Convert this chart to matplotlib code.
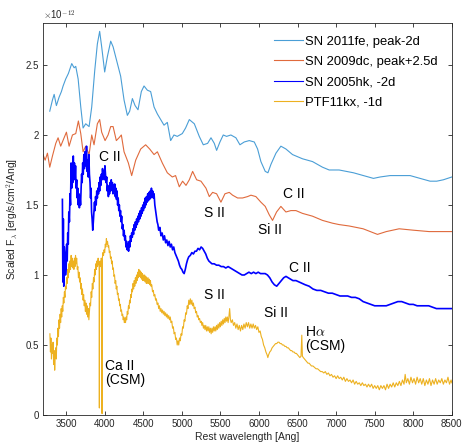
import numpy as np
import matplotlib
matplotlib.use('Agg')
import matplotlib.pyplot as plt
from matplotlib.ticker import FuncFormatter

plt.rcParams['font.family'] = ['Liberation Sans', 'DejaVu Sans']
plt.rcParams['mathtext.fontset'] = 'cm'

# spectra, flux in units of 1e-12
fe_wl = [3288, 3323, 3345, 3374, 3409, 3439, 3461, 3495, 3530, 3573, 3604, 3625, 3656, 3690,
         3720, 3754, 3798, 3832, 3871, 3905, 3935, 3961, 4000, 4035, 4078, 4109, 4151, 4207,
         4251, 4294, 4324, 4359, 4394, 4432, 4475, 4510, 4553, 4596, 4640, 4683, 4726, 4769,
         4812, 4855, 4898, 4941, 5006, 5049, 5097, 5162, 5226, 5278, 5334, 5378, 5421, 5451,
         5494, 5537, 5580, 5636, 5701, 5753, 5809, 5874, 5939, 5982, 6025, 6081, 6116, 6155,
         6220, 6284, 6349, 6435, 6564, 6694, 6823, 6910, 7039, 7225, 7354, 7484, 7570, 7700,
         7829, 7959, 8088, 8218, 8304, 8390, 8500]
fe_fl = [2.17, 2.25, 2.29, 2.21, 2.27, 2.31, 2.35, 2.40, 2.44, 2.51, 2.48, 2.49, 2.40, 2.20,
         2.05, 2.08, 2.06, 2.20, 2.46, 2.65, 2.74, 2.63, 2.45, 2.56, 2.67, 2.63, 2.54, 2.42,
         2.25, 2.14, 2.17, 2.26, 2.21, 2.18, 2.31, 2.35, 2.32, 2.31, 2.20, 2.15, 2.11, 2.07,
         2.09, 1.96, 2.00, 1.99, 2.01, 2.05, 2.11, 2.08, 1.99, 1.93, 1.94, 1.98, 1.94, 1.89,
         1.95, 2.00, 1.99, 2.00, 1.98, 1.93, 1.95, 1.96, 1.95, 1.90, 1.81, 1.74, 1.73, 1.79,
         1.87, 1.92, 1.90, 1.86, 1.83, 1.81, 1.77, 1.75, 1.75, 1.73, 1.71, 1.69, 1.70, 1.71,
         1.71, 1.71, 1.69, 1.67, 1.67, 1.68, 1.70]

dc_wl = [3200, 3228, 3258, 3288, 3323, 3366, 3396, 3430, 3474, 3504, 3539, 3582, 3625, 3659,
         3690, 3720, 3754, 3798, 3832, 3862, 3905, 3935, 3961, 4005, 4044, 4078, 4109, 4151,
         4186, 4216, 4251, 4307, 4350, 4402, 4467, 4531, 4583, 4640, 4683, 4747, 4812, 4877,
         4919, 4967, 5010, 5054, 5097, 5140, 5192, 5248, 5313, 5356, 5399, 5451, 5507, 5559,
         5615, 5658, 5723, 5787, 5852, 5896, 5960, 6025, 6081, 6133, 6176, 6228, 6284, 6349,
         6414, 6479, 6564, 6694, 6823, 6953, 7039, 7169, 7350, 7536, 7650, 7817, 8000, 8205,
         8350, 8500]
dc_fl = [1.86, 1.82, 1.87, 1.77, 1.85, 1.94, 1.98, 1.92, 1.98, 2.02, 1.92, 2.00, 2.01, 2.10,
         2.01, 1.88, 1.92, 1.86, 2.00, 1.93, 2.08, 2.11, 2.02, 1.96, 2.00, 2.06, 2.06, 1.96,
         1.98, 2.00, 1.88, 1.80, 1.71, 1.82, 1.90, 1.93, 1.90, 1.86, 1.88, 1.80, 1.73, 1.70,
         1.71, 1.63, 1.67, 1.64, 1.68, 1.74, 1.68, 1.67, 1.62, 1.56, 1.59, 1.58, 1.52, 1.58,
         1.59, 1.57, 1.55, 1.55, 1.56, 1.57, 1.56, 1.52, 1.49, 1.43, 1.39, 1.45, 1.49, 1.45,
         1.46, 1.46, 1.44, 1.42, 1.39, 1.37, 1.36, 1.35, 1.33, 1.29, 1.31, 1.33, 1.32, 1.31,
         1.31, 1.31]

hk_wl = [3452, 3458, 3464, 3470, 3476, 3485, 3492, 3500, 3507, 3514, 3521, 3528, 3535, 3543,
         3550, 3557, 3565, 3572, 3580, 3586, 3593, 3600, 3608, 3615, 3622, 3630, 3637, 3645,
         3651, 3658, 3665, 3672, 3680, 3687, 3694, 3701, 3708, 3715, 3722, 3730, 3737, 3744,
         3750, 3758, 3765, 3772, 3780, 3787, 3795, 3802, 3810, 3817, 3823, 3830, 3837, 3845,
         3853, 3860, 3868, 3875, 3882, 3890, 3897, 3905, 3912, 3920, 3927, 3935, 3942, 3950,
         3957, 3965, 3972, 3980, 3988, 3995, 4003, 4010, 4018, 4026, 4033, 4040, 4048, 4055,
         4063, 4070, 4078, 4085, 4093, 4100, 4108, 4115, 4123, 4130, 4138, 4145, 4153, 4160,
         4168, 4175, 4183, 4190, 4198, 4205, 4213, 4220, 4228, 4236, 4244, 4252, 4260, 4268,
         4276, 4284, 4292, 4300, 4310, 4318, 4326, 4334, 4342, 4350, 4358, 4366, 4374, 4382,
         4390, 4398, 4406, 4414, 4422, 4430, 4438, 4446, 4454, 4462, 4470, 4478, 4486, 4494,
         4502, 4510, 4518, 4526, 4534, 4542, 4550, 4558, 4566, 4574, 4582, 4590, 4598, 4606,
         4614, 4622, 4630, 4640, 4650, 4660, 4670, 4680, 4690, 4700, 4715, 4730, 4745, 4760,
         4775, 4790, 4805, 4820, 4835, 4850, 4865, 4880, 4895, 4910, 4925, 4940, 4955, 4970,
         4985, 5000, 5015, 5030, 5045, 5060, 5075, 5090, 5110, 5130, 5150, 5170, 5190, 5210,
         5230, 5250, 5270, 5290, 5310, 5330, 5350, 5370, 5390, 5420, 5450, 5480, 5510, 5540,
         5570, 5600, 5630, 5660, 5690, 5720, 5750, 5780, 5810, 5840, 5870, 5900, 5930, 5960,
         5990, 6020, 6050, 6080, 6110, 6140, 6170, 6200, 6230, 6260, 6290, 6320, 6350, 6380,
         6410, 6440, 6480, 6520, 6560, 6600, 6650, 6700, 6750, 6800, 6850, 6900, 6950, 7000,
         7050, 7100, 7150, 7200, 7250, 7300, 7350, 7400, 7450, 7500, 7550, 7600, 7650, 7700,
         7750, 7800, 7850, 7900, 7950, 8000, 8050, 8100, 8150, 8200, 8250, 8300, 8350, 8400,
         8450, 8500]
hk_fl = [1.54, 0.95, 1.40, 0.92, 1.20, 1.15, 1.00, 1.05, 1.22, 1.10, 1.30, 1.22, 1.45, 1.38,
         1.58, 1.50, 1.80, 1.62, 1.75, 1.66, 1.85, 1.70, 1.80, 1.68, 1.78, 1.62, 1.68, 1.55,
         1.62, 1.50, 1.58, 1.48, 1.56, 1.50, 1.62, 1.72, 1.66, 1.80, 1.72, 1.86, 1.76, 1.88,
         1.78, 1.85, 1.92, 1.74, 1.82, 1.70, 1.86, 1.72, 1.66, 1.55, 1.62, 1.45, 1.40, 1.32,
         1.38, 1.45, 1.52, 1.46, 1.56, 1.50, 1.60, 1.55, 1.62, 1.58, 1.66, 1.60, 1.70, 1.64,
         1.72, 1.68, 1.76, 1.70, 1.74, 1.68, 1.78, 1.72, 1.66, 1.70, 1.60, 1.64, 1.56, 1.62,
         1.58, 1.66, 1.60, 1.68, 1.62, 1.66, 1.58, 1.64, 1.60, 1.65, 1.56, 1.62, 1.54, 1.60,
         1.50, 1.55, 1.46, 1.50, 1.42, 1.46, 1.38, 1.42, 1.33, 1.36, 1.28, 1.32, 1.25, 1.28,
         1.20, 1.24, 1.18, 1.22, 1.17, 1.24, 1.20, 1.28, 1.24, 1.30, 1.27, 1.33, 1.29, 1.36,
         1.32, 1.38, 1.34, 1.40, 1.36, 1.42, 1.38, 1.44, 1.40, 1.46, 1.42, 1.48, 1.44, 1.50,
         1.46, 1.52, 1.48, 1.55, 1.50, 1.56, 1.52, 1.58, 1.53, 1.59, 1.54, 1.60, 1.55, 1.62,
         1.56, 1.60, 1.55, 1.58, 1.50, 1.46, 1.42, 1.38, 1.36, 1.32, 1.34, 1.28, 1.30, 1.25,
         1.28, 1.23, 1.25, 1.21, 1.24, 1.20, 1.22, 1.18, 1.20, 1.16, 1.14, 1.12, 1.10, 1.07,
         1.05, 1.04, 1.02, 1.01, 1.04, 1.08, 1.11, 1.13, 1.14, 1.16, 1.15, 1.17, 1.17, 1.19,
         1.18, 1.20, 1.19, 1.17, 1.15, 1.12, 1.10, 1.09, 1.08, 1.08, 1.07, 1.07, 1.06, 1.06,
         1.05, 1.06, 1.05, 1.04, 1.03, 1.02, 1.01, 1.00, 1.00, 1.01, 1.02, 1.01, 1.02, 1.01,
         1.02, 1.01, 1.01, 1.01, 1.00, 0.98, 0.95, 0.93, 0.92, 0.94, 0.96, 0.98, 0.99, 0.98,
         0.97, 0.96, 0.96, 0.95, 0.94, 0.93, 0.92, 0.90, 0.89, 0.89, 0.88, 0.87, 0.87, 0.86,
         0.85, 0.85, 0.85, 0.84, 0.84, 0.83, 0.81, 0.80, 0.79, 0.78, 0.78, 0.78, 0.78, 0.79,
         0.80, 0.81, 0.81, 0.80, 0.79, 0.79, 0.78, 0.78, 0.78, 0.78, 0.77, 0.76, 0.76, 0.76,
         0.76, 0.76]

kx_wl = [3290, 3297, 3303, 3310, 3317, 3324, 3331, 3338, 3345, 3352, 3359, 3366, 3373, 3380,
         3387, 3394, 3401, 3408, 3415, 3422, 3429, 3436, 3443, 3450, 3457, 3464, 3471, 3478,
         3485, 3492, 3500, 3507, 3514, 3521, 3528, 3535, 3543, 3550, 3557, 3565, 3572, 3580,
         3587, 3594, 3601, 3608, 3615, 3622, 3630, 3637, 3645, 3652, 3660, 3667, 3675, 3682,
         3690, 3697, 3705, 3712, 3720, 3727, 3735, 3742, 3750, 3757, 3765, 3772, 3780, 3787,
         3795, 3802, 3810, 3817, 3825, 3832, 3840, 3847, 3855, 3862, 3870, 3877, 3885, 3892,
         3900, 3907, 3915, 3922, 3928, 3931, 3934, 3940, 3947, 3955, 3962, 3966, 3970, 3977,
         3985, 3992, 4000, 4008, 4015, 4022, 4030, 4037, 4045, 4052, 4060, 4068, 4075, 4083,
         4090, 4098, 4105, 4113, 4120, 4128, 4135, 4143, 4150, 4158, 4165, 4173, 4180, 4188,
         4195, 4203, 4210, 4218, 4225, 4233, 4240, 4248, 4255, 4263, 4270, 4278, 4285, 4293,
         4300, 4308, 4315, 4323, 4330, 4338, 4345, 4353, 4360, 4368, 4375, 4383, 4390, 4398,
         4405, 4413, 4420, 4428, 4435, 4443, 4450, 4458, 4465, 4473, 4480, 4488, 4495, 4503,
         4510, 4518, 4525, 4533, 4540, 4548, 4555, 4563, 4570, 4578, 4585, 4593, 4600, 4610,
         4620, 4630, 4640, 4650, 4660, 4670, 4680, 4690, 4700, 4710, 4720, 4730, 4740, 4750,
         4760, 4770, 4780, 4790, 4800, 4810, 4820, 4830, 4840, 4850, 4860, 4870, 4880, 4890,
         4900, 4910, 4920, 4930, 4940, 4950, 4960, 4970, 4980, 4990, 5000, 5010, 5020, 5030,
         5040, 5050, 5060, 5070, 5080, 5090, 5100, 5110, 5120, 5130, 5140, 5150, 5160, 5170,
         5180, 5190, 5200, 5210, 5220, 5230, 5240, 5250, 5260, 5270, 5280, 5290, 5300, 5310,
         5320, 5330, 5340, 5350, 5360, 5370, 5380, 5390, 5400, 5410, 5420, 5430, 5440, 5450,
         5460, 5470, 5480, 5490, 5500, 5510, 5520, 5530, 5540, 5550, 5560, 5570, 5580, 5590,
         5600, 5610, 5620, 5630, 5640, 5655, 5670, 5685, 5700, 5715, 5730, 5745, 5760, 5775,
         5790, 5805, 5820, 5835, 5850, 5865, 5880, 5895, 5910, 5925, 5940, 5955, 5970, 5985,
         6000, 6015, 6030, 6045, 6060, 6075, 6090, 6105, 6115, 6125, 6140, 6155, 6170, 6185,
         6200, 6215, 6230, 6245, 6260, 6275, 6290, 6305, 6320, 6335, 6350, 6365, 6380, 6395,
         6410, 6425, 6440, 6455, 6470, 6485, 6500, 6515, 6530, 6545, 6555, 6563, 6575, 6590,
         6605, 6620, 6635, 6650, 6665, 6680, 6700, 6720, 6740, 6760, 6780, 6800, 6820, 6840,
         6860, 6880, 6900, 6920, 6940, 6960, 6980, 7000, 7020, 7040, 7060, 7080, 7100, 7120,
         7140, 7160, 7180, 7200, 7220, 7240, 7260, 7280, 7300, 7320, 7340, 7360, 7380, 7400,
         7420, 7440, 7460, 7480, 7500, 7520, 7540, 7560, 7580, 7600, 7620, 7640, 7660, 7680,
         7700, 7720, 7740, 7760, 7780, 7800, 7820, 7840, 7860, 7880, 7895, 7910, 7930, 7950,
         7970, 7990, 8010, 8030, 8050, 8070, 8090, 8110, 8130, 8150, 8170, 8190, 8210, 8230,
         8250, 8270, 8290, 8310, 8330, 8350, 8370, 8390, 8410, 8430, 8450, 8470, 8490, 8500]
kx_fl = [0.58, 0.45, 0.55, 0.40, 0.50, 0.44, 0.52, 0.36, 0.46, 0.32, 0.42, 0.48, 0.40, 0.55,
         0.50, 0.62, 0.56, 0.68, 0.62, 0.72, 0.66, 0.76, 0.70, 0.78, 0.74, 0.84, 0.80, 0.88,
         0.84, 0.92, 0.90, 0.98, 0.94, 1.04, 0.98, 1.08, 1.02, 1.10, 1.04, 1.14, 1.06, 1.12,
         1.05, 1.10, 1.04, 1.12, 1.06, 1.14, 1.08, 1.12, 1.04, 1.06, 0.98, 1.02, 0.95, 0.98,
         0.90, 0.94, 0.86, 0.90, 0.82, 0.86, 0.78, 0.82, 0.74, 0.80, 0.72, 0.78, 0.70, 0.76,
         0.68, 0.74, 0.80, 0.78, 0.88, 0.84, 0.94, 0.90, 0.98, 0.95, 1.04, 1.00, 1.08, 1.04,
         1.10, 1.06, 1.12, 1.08, 1.06, 0.05, 1.04, 1.10, 1.06, 1.12, 1.10, 0.01, 1.12, 1.16,
         1.14, 1.18, 1.16, 1.22, 1.20, 1.26, 1.22, 1.24, 1.20, 1.21, 1.16, 1.17, 1.12, 1.13,
         1.08, 1.10, 1.04, 1.05, 0.99, 1.00, 0.94, 0.96, 0.90, 0.92, 0.86, 0.87, 0.82, 0.83,
         0.78, 0.79, 0.74, 0.75, 0.71, 0.72, 0.68, 0.70, 0.66, 0.69, 0.66, 0.70, 0.68, 0.74,
         0.72, 0.78, 0.76, 0.82, 0.80, 0.86, 0.84, 0.90, 0.88, 0.94, 0.90, 0.96, 0.92, 0.98,
         0.94, 1.00, 0.96, 1.02, 0.98, 1.04, 0.99, 1.03, 0.98, 1.02, 0.97, 1.01, 0.96, 1.00,
         0.96, 1.00, 0.95, 0.99, 0.94, 0.98, 0.94, 0.98, 0.94, 0.97, 0.93, 0.96, 0.92, 0.93,
         0.88, 0.89, 0.85, 0.86, 0.82, 0.83, 0.79, 0.80, 0.76, 0.78, 0.74, 0.76, 0.73, 0.75,
         0.72, 0.74, 0.71, 0.73, 0.70, 0.72, 0.69, 0.71, 0.68, 0.70, 0.66, 0.67, 0.62, 0.63,
         0.58, 0.59, 0.54, 0.55, 0.50, 0.53, 0.50, 0.55, 0.53, 0.58, 0.57, 0.63, 0.62, 0.68,
         0.67, 0.73, 0.72, 0.78, 0.76, 0.82, 0.79, 0.83, 0.79, 0.82, 0.78, 0.80, 0.76, 0.77,
         0.73, 0.74, 0.70, 0.71, 0.68, 0.69, 0.66, 0.67, 0.64, 0.66, 0.62, 0.64, 0.61, 0.64,
         0.60, 0.63, 0.60, 0.63, 0.59, 0.62, 0.58, 0.62, 0.59, 0.63, 0.60, 0.63, 0.60, 0.64,
         0.61, 0.65, 0.62, 0.66, 0.63, 0.67, 0.64, 0.68, 0.65, 0.69, 0.66, 0.70, 0.67, 0.70,
         0.66, 0.70, 0.76, 0.68, 0.66, 0.68, 0.64, 0.66, 0.62, 0.65, 0.61, 0.64, 0.60, 0.64,
         0.61, 0.65, 0.62, 0.66, 0.63, 0.66, 0.62, 0.65, 0.62, 0.65, 0.62, 0.64, 0.61, 0.63,
         0.59, 0.60, 0.56, 0.54, 0.50, 0.48, 0.45, 0.43, 0.41, 0.43, 0.45, 0.46, 0.48, 0.49,
         0.50, 0.51, 0.51, 0.52, 0.52, 0.51, 0.51, 0.50, 0.50, 0.49, 0.49, 0.48, 0.48, 0.47,
         0.46, 0.46, 0.45, 0.45, 0.44, 0.44, 0.43, 0.42, 0.41, 0.42, 0.57, 0.42, 0.41, 0.40,
         0.39, 0.38, 0.37, 0.37, 0.36, 0.35, 0.35, 0.34, 0.33, 0.33, 0.32, 0.31, 0.31, 0.30,
         0.31, 0.29, 0.30, 0.28, 0.29, 0.27, 0.28, 0.26, 0.28, 0.26, 0.27, 0.25, 0.27, 0.24,
         0.26, 0.24, 0.25, 0.23, 0.25, 0.22, 0.24, 0.22, 0.23, 0.21, 0.23, 0.21, 0.22, 0.20,
         0.22, 0.20, 0.22, 0.19, 0.21, 0.19, 0.21, 0.18, 0.21, 0.19, 0.21, 0.18, 0.22, 0.19,
         0.22, 0.20, 0.23, 0.20, 0.23, 0.21, 0.24, 0.21, 0.25, 0.22, 0.29, 0.23, 0.26, 0.22,
         0.27, 0.23, 0.26, 0.22, 0.27, 0.23, 0.26, 0.22, 0.26, 0.21, 0.25, 0.22, 0.26, 0.21,
         0.25, 0.22, 0.26, 0.22, 0.25, 0.23, 0.26, 0.22, 0.25, 0.23, 0.27, 0.22, 0.25, 0.23]

labels = ['SN 2011fe, peak-2d', 'SN 2009dc, peak+2.5d', 'SN 2005hk, -2d', 'PTF11kx, -1d']
colors = ['#4a9ed6', '#e06a3c', '#0000ff', '#edb120']

# line identifications: (text, wavelength, flux)
line_ids = [('C II', 3930, 1.84), ('S II', 5291, 1.44), ('Si II', 5991, 1.32),
            ('C II', 6314, 1.58), ('C II', 6392, 1.05), ('S II', 5291, 0.86),
            ('Si II', 6059, 0.73), ('H$\\alpha$\n(CSM)', 6600, 0.54),
            ('Ca II\n(CSM)', 4010, 0.30)]

fig = plt.figure(figsize=(4.62, 4.47), dpi=100)
ax = fig.add_axes([0.093, 0.0716, 0.885, 0.877])

ax.plot(fe_wl, fe_fl, color=colors[0], lw=0.8, label=labels[0])
ax.plot(dc_wl, dc_fl, color=colors[1], lw=0.8, label=labels[1])
ax.plot(hk_wl, hk_fl, color=colors[2], lw=1.2, label=labels[2])
ax.plot(kx_wl, kx_fl, color=colors[3], lw=0.8, label=labels[3])

for txt, x, y in line_ids:
    ax.text(x, y, txt, fontsize=10, ha='left', va='center', color='k', linespacing=1.0)

ax.set_xlim(3200, 8500)
ax.set_ylim(0, 2.8)
ax.set_xticks(np.arange(3500, 8501, 500))
ax.set_yticks(np.arange(0, 2.51, 0.5))
ax.yaxis.set_major_formatter(FuncFormatter(lambda v, p: '%g' % v))

grey = (0.15, 0.15, 0.15)
ax.tick_params(direction='in', length=3, width=0.6, top=True, right=True,
               labelsize=7, colors=grey, pad=3)
for s in ax.spines.values():
    s.set_color(grey)
    s.set_linewidth(0.6)

ax.set_xlabel('Rest wavelength [Ang]', fontsize=7.5, color=grey, labelpad=2)
ax.set_ylabel('Scaled F$_\\lambda$ [erg/s/cm$^2$/Ang]', fontsize=7.5, color=grey, labelpad=4)
fig.text(0.093, 0.966, '$\\times$10$^{-12}$', fontsize=7, color=grey, ha='left', va='center')

leg = ax.legend(loc='upper left', bbox_to_anchor=(0.565, 0.968), frameon=False, fontsize=9.4,
                handlelength=2.2, handletextpad=0.15, labelspacing=0.62, borderpad=0,
                borderaxespad=0)
for h in leg.get_lines():
    h.set_linewidth(0.8)

fig.savefig('out.png', dpi=100)
